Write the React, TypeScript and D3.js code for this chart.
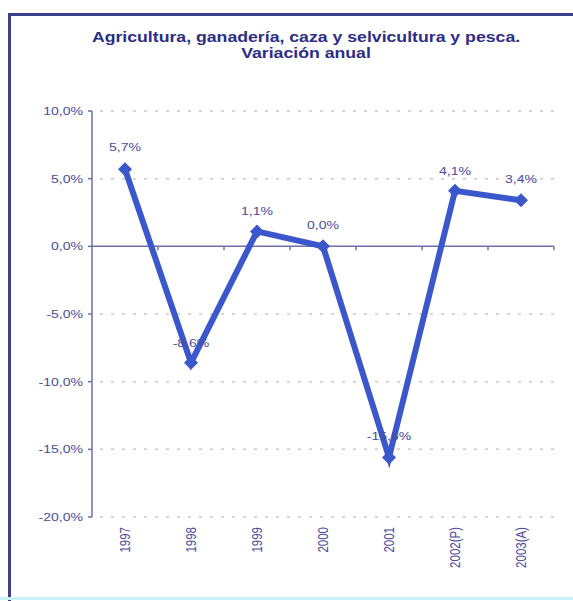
import React from "react";
import * as d3 from "d3";

const categories = ["1997", "1998", "1999", "2000", "2001", "2002(P)", "2003(A)"];
const values = [5.7, -8.6, 1.1, 0.0, -15.6, 4.1, 3.4];
const valueLabels = ["5,7%", "-8,6%", "1,1%", "0,0%", "-15,6%", "4,1%", "3,4%"];
const yTicks = [10, 5, 0, -5, -10, -15, -20];
const yTickLabels = ["10,0%", "5,0%", "0,0%", "-5,0%", "-10,0%", "-15,0%", "-20,0%"];

const font = "Liberation Sans, Arial, sans-serif";
const SX = 1.22;

function T(props: { x: number; y: number; anchor?: string; size: number; bold?: boolean; fill: string; rotate?: boolean; children: React.ReactNode }) {
  const { x, y, anchor = "middle", size, bold, fill, rotate, children } = props;
  const tr = rotate ? `translate(${x},${y}) scale(${SX},1) rotate(-90)` : `translate(${x},${y}) scale(${SX},1)`;
  return (
    <text transform={tr} textAnchor={anchor} fontFamily={font} fontWeight={bold ? "bold" : "normal"} fontSize={size} fill={fill}>
      {children}
    </text>
  );
}

export default function App() {
  const W = 573, H = 601;
  const left = 92, right = 554, top = 111, bottom = 517;
  const x = d3.scaleBand<string>().domain(categories).range([left, right]);
  const y = d3.scaleLinear().domain([-20, 10]).range([bottom, top]);
  const cx = (c: string) => (x(c) as number) + x.bandwidth() / 2;
  const line = d3.line<number>().x((_, i) => cx(categories[i])).y((v) => y(v));
  const labelDy = [-18, -16, -16, -17, -17, -16, -17];
  const labelColor = "#4a4b9c";
  return (
    <svg width={W} height={H} style={{ position: "absolute", left: 0, top: 0 }}>
      <rect x={0} y={0} width={W} height={H} fill="#ffffff" />
      <path d={`M9.5,${H} V14.5 H${W}`} fill="none" stroke="#3b3f88" strokeWidth={3} />
      <line x1={0} x2={W} y1={598.5} y2={598.5} stroke="#c8f2f8" strokeWidth={3} />
      <T x={306} y={42} size={14.5} bold fill="#2d2e85">Agricultura, ganadería, caza y selvicultura y pesca.</T>
      <T x={306} y={58} size={14.5} bold fill="#2d2e85">Variación anual</T>
      {yTicks.map((t) =>
        t === 0 ? null : (
          <line key={"g" + t} x1={left + 8} x2={right} y1={y(t)} y2={y(t)} stroke="#c8c8d0" strokeWidth={1.5} strokeDasharray="3,8" />
        )
      )}
      <line x1={left} x2={left} y1={top} y2={bottom} stroke="#6f6fa8" strokeWidth={1.5} />
      {yTicks.map((t, i) => (
        <g key={"t" + t}>
          <line x1={left - 4} x2={left} y1={y(t)} y2={y(t)} stroke="#6f6fa8" strokeWidth={1.5} />
          <T x={left - 9} y={y(t) + 4} anchor="end" size={11.5} fill={labelColor}>{yTickLabels[i]}</T>
        </g>
      ))}
      <line x1={left} x2={right} y1={y(0)} y2={y(0)} stroke="#6f6fa8" strokeWidth={1.5} />
      {categories.map((c) => (
        <line key={"xt" + c} x1={(x(c) as number) + x.bandwidth()} x2={(x(c) as number) + x.bandwidth()} y1={y(0)} y2={y(0) + 4} stroke="#6f6fa8" strokeWidth={1.5} />
      ))}
      {categories.map((c) => (
        <T key={"xl" + c} x={cx(c) + 5} y={bottom + 10} anchor="end" size={11.5} fill={labelColor} rotate>{c}</T>
      ))}
      <path d={line(values) as string} fill="none" stroke="#3b57cc" strokeWidth={6} strokeLinejoin="miter" />
      {values.map((v, i) => {
        const px = cx(categories[i]);
        const py = y(v);
        const s = 7;
        return <path key={"m" + i} d={`M${px},${py - s} L${px + s},${py} L${px},${py + s} L${px - s},${py} Z`} fill="#3b57cc" />;
      })}
      {values.map((v, i) => (
        <T key={"v" + i} x={cx(categories[i])} y={y(v) + labelDy[i]} size={11.5} fill={labelColor}>{valueLabels[i]}</T>
      ))}
    </svg>
  );
}
